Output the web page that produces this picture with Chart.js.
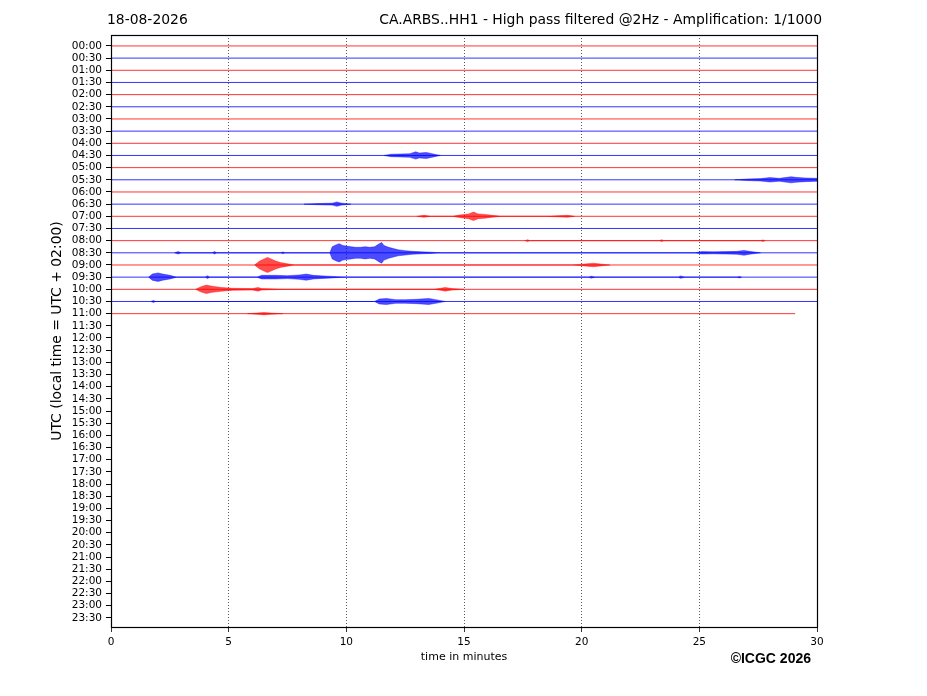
<!DOCTYPE html>
<html>
<head>
<meta charset="utf-8">
<script src="https://cdn.jsdelivr.net/npm/chart.js@4.4.1/dist/chart.umd.min.js"></script>
<style>
  html, body { margin: 0; padding: 0; background: #fff; }
  #chart { display: block; }
</style>
</head>
<body>
<canvas id="chart" width="927" height="696"></canvas>
<script>
// row labels (UTC), top to bottom
const rowLabels = [];
for (let h = 0; h < 24; h++) {
  const hh = String(h).padStart(2, '0');
  rowLabels.push(hh + ':00', hh + ':30');
}
const minuteTicks = [0, 5, 10, 15, 20, 25, 30];

// how far each trace runs (minutes); rows after 11:00 have no data yet
const traceEnd = [30, 30, 30, 30, 30, 30, 30, 30, 30, 30, 30, 30,
  30, 30, 30, 30, 30, 30, 30, 30, 30, 30, 29.07];

// amplitude envelopes: [minute, half amplitude in row units]
const env0430 = [[11.6, 0], [11.9, 0.1], [12.3, 0.12], [12.7, 0.15], [12.95, 0.3], [13.1, 0.2], [13.4, 0.25], [13.7, 0.12], [14.0, 0]];
const env0530 = [[26.5, 0], [27.0, 0.06], [27.6, 0.1], [28.0, 0.18], [28.4, 0.12], [28.9, 0.25], [29.1, 0.2], [29.5, 0.15], [30, 0.12]];
const env0630 = [[8.2, 0], [8.8, 0.05], [9.4, 0.08], [9.6, 0.18], [9.8, 0.08], [10.2, 0]];
const env0700 = [[13.0, 0], [13.3, 0.08], [13.6, 0], [14.5, 0], [14.8, 0.1], [15.2, 0.2], [15.4, 0.35], [15.6, 0.2], [15.9, 0.15], [16.2, 0.08], [16.6, 0],
  [18.5, 0], [19.4, 0.08], [19.7, 0]];
const env0800 = [[17.6, 0], [17.7, 0.08], [17.8, 0], [23.3, 0], [23.4, 0.08], [23.5, 0], [27.6, 0], [27.7, 0.06], [27.8, 0]];
const env0830 = [[2.7, 0], [2.85, 0.1], [3.0, 0], [4.3, 0], [4.4, 0.1], [4.5, 0], [7.2, 0], [7.3, 0.07], [7.4, 0],
  [9.3, 0], [9.4, 0.5], [9.55, 0.65], [9.7, 0.75], [9.85, 0.6], [10.0, 0.55], [10.2, 0.5], [10.4, 0.45], [10.6, 0.45], [10.8, 0.5],
  [11.0, 0.45], [11.2, 0.5], [11.4, 0.75], [11.5, 0.85], [11.6, 0.6], [11.8, 0.45], [12.0, 0.35], [12.2, 0.25], [12.5, 0.18],
  [12.8, 0.12], [13.2, 0.08], [13.6, 0.05], [14.0, 0],
  [24.8, 0], [25.1, 0.1], [25.6, 0.08], [26.1, 0.1], [26.6, 0.12], [26.9, 0.2], [27.2, 0.1], [27.6, 0]];
const env0900 = [[6.1, 0], [6.3, 0.3], [6.5, 0.5], [6.65, 0.62], [6.8, 0.5], [7.0, 0.32], [7.2, 0.2], [7.5, 0.1], [7.8, 0],
  [19.6, 0], [20.0, 0.06], [20.5, 0.15], [20.8, 0.08], [21.2, 0]];
const env0930 = [[1.6, 0], [1.75, 0.25], [2.0, 0.35], [2.2, 0.25], [2.5, 0.15], [2.8, 0], [4.0, 0], [4.1, 0.12], [4.2, 0],
  [6.2, 0], [6.4, 0.15], [7.0, 0.15], [7.5, 0.12], [8.0, 0.18], [8.3, 0.25], [8.6, 0.15], [9.2, 0.08], [10.0, 0],
  [20.3, 0], [20.4, 0.08], [20.6, 0], [24.1, 0], [24.2, 0.1], [24.4, 0], [26.6, 0], [26.7, 0.06], [26.8, 0]];
const env1000 = [[3.6, 0], [3.8, 0.2], [4.05, 0.35], [4.3, 0.25], [4.7, 0.15], [5.2, 0.08], [6.0, 0.06], [6.25, 0.15], [6.4, 0.06], [7.4, 0],
  [13.7, 0], [14.0, 0.08], [14.2, 0.15], [14.5, 0.06], [15.0, 0]];
const env1030 = [[1.7, 0], [1.8, 0.08], [1.9, 0], [11.2, 0], [11.4, 0.2], [11.7, 0.25], [12.1, 0.15], [12.5, 0.15], [13.0, 0.18],
  [13.5, 0.25], [13.8, 0.15], [14.2, 0]];
const env1100 = [[5.8, 0], [6.2, 0.05], [6.5, 0.1], [6.8, 0.05], [7.3, 0]];

const envelopes = {
  9: env0430, 11: env0530, 13: env0630, 14: env0700, 16: env0800, 17: env0830,
  18: env0900, 19: env0930, 20: env1000, 21: env1030, 22: env1100
};

const RED = 'rgba(255, 0, 0, 0.8)';
const BLUE = 'rgba(0, 0, 255, 0.8)';
const RED_FILL = 'rgba(255, 0, 0, 0.7)';
const BLUE_FILL = 'rgba(0, 0, 255, 0.7)';

const datasets = [];
traceEnd.forEach((end, row) => {
  const even = row % 2 === 0;
  const color = even ? RED : BLUE;
  datasets.push({
    data: [{ x: 0, y: row }, { x: end, y: row }],
    borderColor: color,
    borderWidth: 1,
    pointRadius: 0,
    fill: false,
  });
  const env = envelopes[row];
  if (env) {
    datasets.push({
      data: env.map(([t, a]) => ({ x: t, y: row - a })),
      borderColor: color,
      borderWidth: 0.5,
      pointRadius: 0,
      fill: false,
    });
    datasets.push({
      data: env.map(([t, a]) => ({ x: t, y: row + a })),
      borderColor: color,
      borderWidth: 0.5,
      pointRadius: 0,
      backgroundColor: even ? RED_FILL : BLUE_FILL,
      fill: '-1',
    });
  }
});

// titles, copyright and the frame round the plot
const textPlugin = {
  id: 'texts',
  afterDraw(chart) {
    const { ctx, chartArea } = chart;
    ctx.save();
    ctx.strokeStyle = '#000';
    ctx.lineWidth = 1.2;
    ctx.strokeRect(Math.round(chartArea.left) + 0.5, Math.round(chartArea.top) + 0.5,
      Math.round(chartArea.right - chartArea.left), Math.round(chartArea.bottom - chartArea.top));

    ctx.fillStyle = '#000';
    ctx.textBaseline = 'middle';
    ctx.font = '13.9px "DejaVu Sans"';
    ctx.textAlign = 'left';
    ctx.fillText('18-08-2026', 107, 20);
    ctx.textAlign = 'right';
    ctx.fillText('CA.ARBS..HH1 - High pass filtered @2Hz - Amplification: 1/1000', 822, 20);

    ctx.font = '11px "DejaVu Sans"';
    ctx.textAlign = 'center';
    ctx.fillText('time in minutes', (chartArea.left + chartArea.right) / 2, 657);

    ctx.font = 'bold 14px "Liberation Sans"';
    ctx.textAlign = 'right';
    ctx.fillText('\u00A9ICGC 2026', 811, 659);

    ctx.translate(57, (chartArea.top + chartArea.bottom) / 2);
    ctx.rotate(-Math.PI / 2);
    ctx.font = '13.9px "DejaVu Sans"';
    ctx.textAlign = 'center';
    ctx.fillText('UTC (local time = UTC + 02:00)', 0, 0);
    ctx.restore();
  }
};

new Chart(document.getElementById('chart').getContext('2d'), {
  type: 'line',
  data: { datasets },
  options: {
    responsive: false,
    animation: false,
    devicePixelRatio: 1,
    layout: { padding: { left: 0, right: 110, top: 35, bottom: 0 } },
    plugins: { legend: { display: false }, tooltip: { enabled: false } },
    elements: { line: { tension: 0 } },
    scales: {
      x: {
        type: 'linear',
        min: 0,
        max: 30,
        afterFit: (scale) => { scale.height = 69; },
        afterBuildTicks: (scale) => { scale.ticks = minuteTicks.map(v => ({ value: v })); },
        ticks: {
          color: '#000',
          font: { family: 'DejaVu Sans', size: 10.5 },
          padding: 4,
          maxRotation: 0,
          autoSkip: false,
        },
        grid: {
          color: (c) => (c.tick && (c.tick.value === 0 || c.tick.value === 30)) ? 'rgba(0,0,0,0)' : 'rgba(0,0,0,0.8)',
          lineWidth: 0.8,
          tickColor: '#000',
          tickLength: 5,
          tickBorderDash: [],
        },
        border: { display: false, dash: [1, 2] },
      },
      y: {
        type: 'linear',
        reverse: true,
        min: -0.9,
        max: 47.75,
        afterFit: (scale) => { scale.width = 111; },
        afterBuildTicks: (scale) => { scale.ticks = rowLabels.map((_, i) => ({ value: i })); },
        ticks: {
          color: '#000',
          font: { family: 'DejaVu Sans', size: 10.5 },
          padding: 4,
          autoSkip: false,
          callback: (v) => rowLabels[v],
        },
        grid: {
          drawOnChartArea: false,
          color: '#000',
          tickColor: '#000',
          tickLength: 5,
          tickBorderDash: [],
        },
        border: { display: false },
      },
    },
  },
  plugins: [textPlugin],
});
</script>
</body>
</html>
